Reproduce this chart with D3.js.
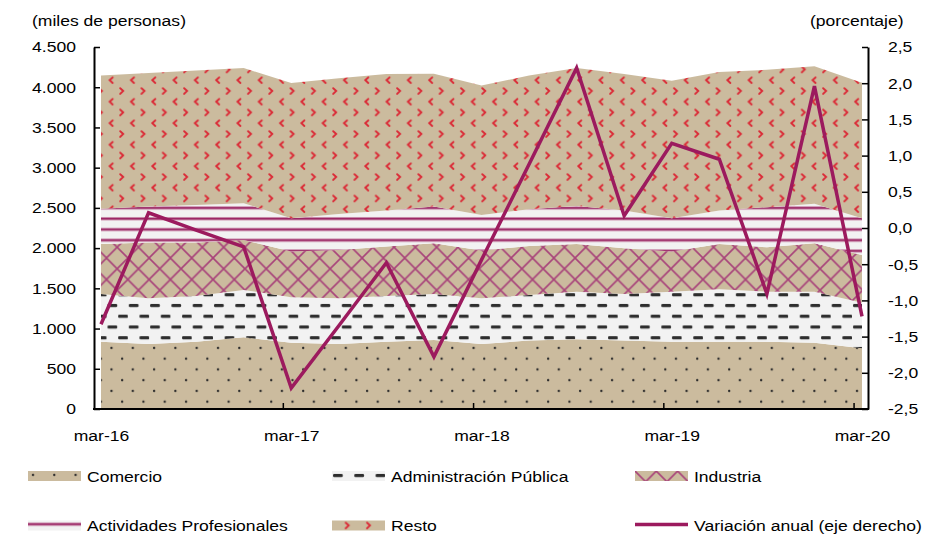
<!DOCTYPE html>
<html>
<head>
<meta charset="utf-8">
<script src="https://cdn.jsdelivr.net/npm/d3@7"></script>
<style>
  body { margin: 0; background: #fff; }
  text { font-family: "Liberation Sans", Arial, sans-serif; font-size: 15px; fill: #000; transform-box: fill-box; }
  /* the original text is drawn wider than Arial, so stretch it a bit */
  .sx-start { transform: scaleX(1.17); transform-origin: 0% 50%; }
  .sx-mid { transform: scaleX(1.17); transform-origin: 50% 50%; }
  .sx-end { transform: scaleX(1.17); transform-origin: 100% 50%; }
</style>
</head>
<body>
<script>

// Quarters shown on the x axis (only every 4th is labelled).
var quarters = ["mar-16", "jun-16", "sep-16", "dic-16", "mar-17", "jun-17", "sep-17", "dic-17",
  "mar-18", "jun-18", "sep-18", "dic-18", "mar-19", "jun-19", "sep-19", "dic-19", "mar-20"];
var labelledQuarters = ["mar-16", "mar-17", "mar-18", "mar-19", "mar-20"];

// Employment by sector, thousands of people (stacked, bottom to top).
var comercio = [837, 808, 837, 891, 825, 808, 837, 858, 808, 850, 867, 850, 837, 837, 837, 825, 755];
var adminPublica = [593, 569, 568, 589, 564, 569, 568, 572, 569, 568, 592, 580, 622, 652, 622, 634, 567];
var industria = [622, 692, 664, 622, 568, 601, 614, 631, 592, 609, 593, 568, 498, 563, 552, 602, 593];
var actividades = [436, 447, 468, 456, 415, 447, 447, 455, 444, 457, 473, 468, 415, 414, 498, 489, 457];
var resto = [1658, 1661, 1670, 1680, 1679, 1688, 1697, 1651, 1608, 1662, 1713, 1697, 1708, 1722, 1707, 1712, 1683];

// Annual change, percent (right axis).
var variacion = [-1.33, 0.21, -0.03, -0.26, -2.21, -1.35, -0.48, -1.78, -0.44, 0.88, 2.21, 0.17, 1.17, 0.95, -0.91, 1.96, -1.22];

// Tick values.
var leftTicks = [0, 500, 1000, 1500, 2000, 2500, 3000, 3500, 4000, 4500];
var rightTicks = [-2.5, -2, -1.5, -1, -0.5, 0, 0.5, 1, 1.5, 2, 2.5];

var seriesKeys = ["comercio", "adminPublica", "industria", "actividades", "resto"];
var seriesNames = {
  comercio: "Comercio",
  adminPublica: "Administración Pública",
  industria: "Industria",
  actividades: "Actividades Profesionales",
  resto: "Resto"
};

var TAN = "#CBBB9E";
var LIGHT = "#F2F2F2";
var LINE_COLOR = "#9C1A5E";

var width = 925, height = 534;

var svg = d3.select("body").append("svg")
  .attr("width", width)
  .attr("height", height);

// Spanish number format: "." for thousands, "," for decimals.
var es = d3.formatLocale({ decimal: ",", thousands: ".", grouping: [3], currency: ["", " €"], minus: "-" });

var x = d3.scalePoint().domain(quarters).range([101, 862]);
var yLeft = d3.scaleLinear().domain([0, 4500]).range([409, 47]);
var yRight = d3.scaleLinear().domain([-2.5, 2.5]).range([409, 47]);

// ---- fill patterns ----
var defs = svg.append("defs");
var PW = 21.3, PH = 21.5;

function newPattern(id, bg) {
  var p = defs.append("pattern")
    .attr("id", id)
    .attr("patternUnits", "userSpaceOnUse")
    .attr("width", PW)
    .attr("height", PH);
  p.append("rect").attr("width", PW).attr("height", PH).attr("fill", bg);
  return p;
}

// Comercio: small dark dots on tan
var pc = newPattern("p-comercio", TAN);
pc.append("circle").attr("cx", 5).attr("cy", 4).attr("r", 1.2).attr("fill", "#2b2b2b");
pc.append("circle").attr("cx", 5 + PW / 2).attr("cy", 4 + PH / 2).attr("r", 1.2).attr("fill", "#2b2b2b");

// Administración Pública: dark dashes on light grey
var pa = newPattern("p-admin", LIGHT);
pa.append("rect").attr("x", 1).attr("y", 3).attr("width", 9.8).attr("height", 3.2).attr("rx", 1.2).attr("fill", "#2e2e2e");
pa.append("rect").attr("x", 1 + PW / 2).attr("y", 3 + PH / 2).attr("width", 9.8).attr("height", 3.2).attr("rx", 1.2).attr("fill", "#2e2e2e");

// Industria: magenta diamond lattice on tan
var pi = newPattern("p-industria", TAN);
pi.append("path")
  .attr("d", "M0,0L" + PW + "," + PH + "M" + PW + ",0L0," + PH)
  .attr("stroke", "#A8437A")
  .attr("stroke-width", 1.6)
  .attr("fill", "none");

// Actividades Profesionales: horizontal magenta lines on light grey
var pp = newPattern("p-actividades", LIGHT);
[2, 2 + PH / 2].forEach(function (y0) {
  pp.append("rect").attr("x", 0).attr("y", y0).attr("width", PW).attr("height", 3.4).attr("fill", "#CB8FAD");
  pp.append("rect").attr("x", 0).attr("y", y0 + 0.9).attr("width", PW).attr("height", 1.6).attr("fill", "#9A2463");
});

// Resto: red chevrons on tan
var pr = newPattern("p-resto", TAN);
pr.append("path")
  .attr("d", "M13.7,2.2L16.7,5L13.7,7.8")
  .attr("stroke", "#DB2A36").attr("stroke-width", 1.9).attr("fill", "none").attr("stroke-linecap", "round");
pr.append("path")
  .attr("d", "M6.2,12.9L3.2,15.7L6.2,18.5")
  .attr("stroke", "#DB2A36").attr("stroke-width", 1.9).attr("fill", "none").attr("stroke-linecap", "round");

var patternFor = {
  comercio: "url(#p-comercio)",
  adminPublica: "url(#p-admin)",
  industria: "url(#p-industria)",
  actividades: "url(#p-actividades)",
  resto: "url(#p-resto)"
};

// ---- stacked areas ----
var table = quarters.map(function (q, i) {
  return {
    quarter: q,
    comercio: comercio[i],
    adminPublica: adminPublica[i],
    industria: industria[i],
    actividades: actividades[i],
    resto: resto[i]
  };
});

var stacked = d3.stack().keys(seriesKeys)(table);

var area = d3.area()
  .x(function (d) { return x(d.data.quarter); })
  .y0(function (d) { return yLeft(d[0]); })
  .y1(function (d) { return yLeft(d[1]); });

svg.append("g").selectAll("path")
  .data(stacked)
  .join("path")
  .attr("d", area)
  .attr("fill", function (s) { return patternFor[s.key]; });

// ---- axes ----
var axisStroke = function (g) {
  g.select(".domain").attr("stroke", "#000").attr("stroke-width", 2);
  g.selectAll(".tick line").attr("stroke", "#000").attr("stroke-width", 1.5);
};

var leftAxis = svg.append("g")
  .attr("transform", "translate(94,0)")
  .call(d3.axisLeft(yLeft).tickValues(leftTicks).tickFormat(es.format(",.0f"))
    .tickSizeInner(-6).tickSizeOuter(0).tickPadding(18))
  .call(axisStroke);
leftAxis.selectAll("text").attr("class", "sx-end").style("font-size", "15px").style("font-family", null);

var rightAxis = svg.append("g")
  .attr("transform", "translate(868,0)")
  .call(d3.axisRight(yRight).tickValues(rightTicks).tickFormat(es.format(".1f"))
    .tickSizeInner(-6).tickSizeOuter(0).tickPadding(20))
  .call(axisStroke);
rightAxis.selectAll("text").attr("class", "sx-start").style("font-size", "15px").style("font-family", null);

// bottom axis: labels on the quarters, tick marks half a month before them
var bottomAxis = svg.append("g")
  .attr("transform", "translate(0,409)")
  .call(d3.axisBottom(x).tickValues(labelledQuarters).tickSize(0).tickPadding(21));
bottomAxis.select(".domain").remove();
bottomAxis.selectAll("text").attr("class", "sx-mid").style("font-size", "15px").style("font-family", null);

svg.append("line")
  .attr("x1", 93).attr("x2", 869)
  .attr("y1", 409).attr("y2", 409)
  .attr("stroke", "#000").attr("stroke-width", 2);

var monthStep = (x(quarters[1]) - x(quarters[0])) / 3;
svg.append("g").selectAll("line")
  .data(labelledQuarters.slice(1))
  .join("line")
  .attr("x1", function (q) { return x(q) - monthStep / 2; })
  .attr("x2", function (q) { return x(q) - monthStep / 2; })
  .attr("y1", 409).attr("y2", 403)
  .attr("stroke", "#000").attr("stroke-width", 1.5);

// axis titles
svg.append("text").attr("class", "sx-start").attr("x", 32).attr("y", 26).text("(miles de personas)");
svg.append("text").attr("class", "sx-start").attr("x", 810).attr("y", 26).text("(porcentaje)");

// ---- annual change line ----
var line = d3.line()
  .x(function (d, i) { return x(quarters[i]); })
  .y(function (d) { return yRight(d); });

svg.append("path")
  .datum(variacion)
  .attr("d", line)
  .attr("fill", "none")
  .attr("stroke", LINE_COLOR)
  .attr("stroke-width", 3.5)
  .attr("stroke-linejoin", "miter");

// ---- legend ----
var legendItems = [
  { name: seriesNames.comercio, fill: patternFor.comercio, col: 0, row: 0 },
  { name: seriesNames.adminPublica, fill: patternFor.adminPublica, col: 1, row: 0 },
  { name: seriesNames.industria, fill: patternFor.industria, col: 2, row: 0 },
  { name: seriesNames.actividades, fill: patternFor.actividades, col: 0, row: 1 },
  { name: seriesNames.resto, fill: patternFor.resto, col: 1, row: 1 },
  { name: "Variación anual (eje derecho)", line: true, col: 2, row: 1 }
];
var legendCols = [28, 332, 635];
var legendRows = [471, 520.5];

var legend = svg.append("g").selectAll("g")
  .data(legendItems)
  .join("g")
  .attr("transform", function (d) { return "translate(" + legendCols[d.col] + "," + legendRows[d.row] + ")"; });

legend.filter(function (d) { return !d.line; })
  .append("rect")
  .attr("width", 53).attr("height", 10)
  .attr("fill", function (d) { return d.fill; });

legend.filter(function (d) { return d.line; })
  .append("line")
  .attr("x1", 0).attr("x2", 53).attr("y1", 4).attr("y2", 4)
  .attr("stroke", LINE_COLOR).attr("stroke-width", 3.5);

legend.append("text")
  .attr("class", "sx-start")
  .attr("x", 59)
  .attr("y", 10.5)
  .text(function (d) { return d.name; });

</script>
</body>
</html>
